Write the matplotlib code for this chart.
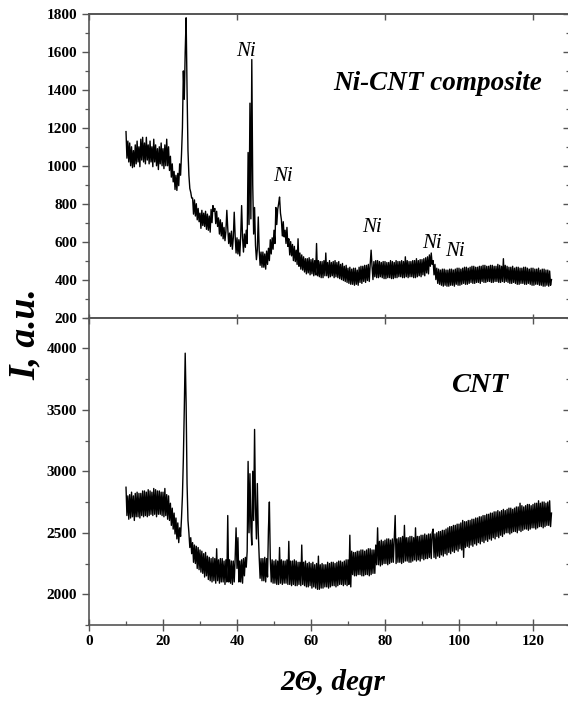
import numpy as np
import matplotlib
matplotlib.use("Agg")
import matplotlib.pyplot as plt
from matplotlib.ticker import MultipleLocator, NullFormatter
from matplotlib.font_manager import FontProperties

plt.rcParams["font.family"] = "Liberation Serif"
plt.rcParams["font.weight"] = "bold"

# 2-theta grid: 10..125 deg, 0.25 deg step (one row below = one degree)
theta_start, theta_stop, theta_step = 10.0, 125.0, 0.25

# Ni-CNT composite pattern
ni_cnt = [
    1180, 1040, 1130, 1020,  1120, 1000, 1100, 990,   1080, 995, 1110, 1010,   # 10-12
    1130, 1020, 1100, 995,   1140, 1030, 1150, 1020,  1120, 1010, 1150, 1030,  # 13-15
    1110, 1010, 1130, 1020,  1100, 995, 1140, 1020,   1110, 1000, 1090, 980,   # 16-18
    1100, 1010, 1120, 1000,  1090, 985, 1110, 1000,   1140, 1000, 1100, 975,   # 19-21
    1050, 940, 1010, 915,    970, 875, 950, 870,      960, 895, 1010, 950,     # 22-24
    1060, 1200, 1500, 1350,  1600, 1780, 1400, 1080,  950, 880, 860, 830,      # 25-27
    830, 745, 820, 735,      800, 715, 775, 705,      750, 670, 765, 685,      # 28-30
    750, 680, 760, 665,      745, 660, 735, 650,      770, 700, 790, 760,      # 31-33
    775, 695, 760, 680,      725, 640, 715, 630,      700, 615, 675, 605,      # 34-36
    655, 765, 670, 590,      645, 575, 655, 560,      620, 755, 630, 540,      # 37-39
    620, 535, 610, 525,      630, 790, 620, 545,      640, 570, 660, 590,      # 40-42
    1070, 690, 1330, 720,    1560, 900, 640, 780,     580, 505, 560, 730,      # 43-45
    555, 475, 545, 465,      545, 465, 535, 455,      550, 480, 565, 500,      # 46-48
    610, 535, 620, 560,      660, 590, 780, 690,      770, 800, 835, 750,      # 49-51
    715, 630, 705, 625,      660, 590, 675, 575,      615, 530, 600, 525,      # 52-54
    585, 500, 575, 495,      555, 480, 615, 470,      540, 455, 530, 450,      # 55-57
    520, 440, 510, 430,      510, 435, 515, 425,      505, 430, 510, 420,      # 58-60
    500, 425, 590, 420,      500, 415, 495, 410,      495, 410, 500, 420,      # 61-63
    540, 420, 490, 410,      500, 415, 490, 420,      495, 410, 500, 415,      # 64-66
    490, 410, 495, 405,      480, 400, 485, 395,      470, 390, 475, 385,      # 67-69
    460, 380, 465, 375,      455, 375, 460, 370,      460, 375, 450, 370,      # 70-72
    465, 385, 470, 380,      470, 390, 475, 385,      475, 395, 480, 390,      # 73-75
    480, 555, 470, 400,      495, 415, 500, 410,      500, 410, 495, 415,      # 76-78
    490, 410, 495, 405,      495, 405, 490, 410,      490, 410, 500, 405,      # 79-81
    495, 405, 490, 410,      500, 410, 495, 415,      495, 415, 500, 410,      # 82-84
    495, 410, 520, 415,      500, 410, 495, 415,      495, 415, 500, 410,      # 85-87
    500, 410, 510, 415,      500, 420, 505, 415,      505, 425, 510, 420,      # 88-90
    515, 435, 520, 430,      530, 470, 540, 480,      500, 425, 480, 400,      # 91-93
    460, 380, 455, 375,      450, 370, 455, 365,      455, 370, 450, 365,      # 94-96
    450, 365, 455, 370,      455, 370, 450, 365,      455, 375, 460, 370,      # 97-99
    460, 370, 455, 375,      460, 380, 465, 375,      465, 375, 460, 380,      # 100-102
    465, 385, 470, 380,      470, 380, 465, 385,      465, 385, 470, 380,      # 103-105
    470, 390, 475, 385,      475, 385, 470, 390,      470, 390, 475, 385,      # 106-108
    475, 385, 470, 390,      470, 390, 480, 385,      475, 385, 470, 390,      # 109-111
    510, 385, 475, 390,      470, 385, 465, 380,      465, 380, 470, 385,      # 112-114
    460, 380, 465, 375,      465, 375, 460, 380,      460, 380, 465, 375,      # 115-117
    465, 375, 460, 380,      455, 375, 460, 370,      460, 370, 455, 375,      # 118-120
    455, 375, 460, 370,      450, 370, 455, 365,      455, 365, 450, 370,      # 121-123
    450, 365, 445, 370,      400,                                              # 124-125
]

# pure CNT pattern
cnt = [
    2870, 2640, 2800, 2610,  2810, 2620, 2830, 2630,  2800, 2600, 2820, 2630,  # 10-12
    2830, 2630, 2820, 2620,  2820, 2640, 2840, 2630,  2840, 2640, 2830, 2630,  # 13-15
    2850, 2640, 2840, 2650,  2830, 2640, 2860, 2650,  2850, 2630, 2840, 2650,  # 16-18
    2840, 2650, 2830, 2640,  2830, 2630, 2860, 2640,  2810, 2610, 2800, 2600,  # 19-21
    2740, 2560, 2700, 2530,  2660, 2490, 2620, 2450,  2580, 2420, 2540, 2470,  # 22-24
    2620, 2800, 3100, 3500,  3960, 3550, 2900, 2600,  2500, 2380, 2460, 2330,  # 25-27
    2420, 2260, 2400, 2250,  2390, 2210, 2380, 2200,  2360, 2180, 2350, 2170,  # 28-30
    2330, 2140, 2340, 2150,  2310, 2120, 2300, 2110,  2290, 2100, 2300, 2110,  # 31-33
    2290, 2090, 2370, 2110,  2280, 2090, 2290, 2100,  2290, 2100, 2270, 2080,  # 34-36
    2280, 2100, 2640, 2100,  2280, 2090, 2270, 2080,  2270, 2100, 2290, 2540,  # 37-39
    2210, 2460, 2100, 2270,  2100, 2280, 2090, 2290,  2150, 2300, 2220, 2350,  # 40-42
    3080, 2500, 2980, 2550,  2400, 3000, 2600, 3340,  2700, 2450, 2900, 2500,  # 43-45
    2300, 2130, 2290, 2110,  2290, 2110, 2300, 2100,  2290, 2140, 2530, 2750,  # 46-48
    2290, 2100, 2280, 2090,  2270, 2090, 2280, 2080,  2270, 2080, 2380, 2090,  # 49-51
    2280, 2080, 2270, 2090,  2270, 2090, 2280, 2080,  2430, 2080, 2270, 2070,  # 52-54
    2270, 2080, 2280, 2070,  2270, 2070, 2260, 2080,  2260, 2070, 2400, 2080,  # 55-57
    2260, 2070, 2270, 2060,  2250, 2060, 2260, 2070,  2250, 2050, 2260, 2060,  # 58-60
    2240, 2050, 2250, 2040,  2310, 2040, 2240, 2050,  2250, 2050, 2240, 2060,  # 61-63
    2240, 2060, 2260, 2050,  2250, 2060, 2260, 2070,  2260, 2070, 2250, 2060,  # 64-66
    2260, 2070, 2270, 2080,  2270, 2080, 2260, 2070,  2270, 2080, 2280, 2070,  # 67-69
    2280, 2080, 2480, 2060,  2350, 2160, 2340, 2150,  2340, 2150, 2350, 2160,  # 70-72
    2350, 2160, 2360, 2150,  2360, 2150, 2350, 2160,  2360, 2160, 2370, 2150,  # 73-75
    2370, 2160, 2360, 2170,  2360, 2170, 2400, 2240,  2540, 2240, 2430, 2230,  # 76-78
    2440, 2240, 2430, 2250,  2440, 2250, 2450, 2240,  2450, 2250, 2440, 2260,  # 79-81
    2450, 2260, 2460, 2640,  2250, 2450, 2260, 2460,  2260, 2460, 2250, 2470,  # 82-84
    2260, 2560, 2270, 2460,  2270, 2460, 2260, 2470,  2260, 2470, 2270, 2460,  # 85-87
    2280, 2540, 2270, 2470,  2280, 2470, 2270, 2480,  2290, 2480, 2280, 2490,  # 88-90
    2290, 2480, 2290, 2490,  2300, 2490, 2290, 2500,  2530, 2300, 2490, 2290,  # 91-93
    2500, 2310, 2510, 2300,  2510, 2320, 2520, 2310,  2520, 2330, 2530, 2320,  # 94-96
    2540, 2340, 2550, 2330,  2550, 2350, 2560, 2340,  2560, 2360, 2570, 2350,  # 97-99
    2570, 2370, 2580, 2360,  2600, 2300, 2590, 2380,  2590, 2390, 2600, 2380,  # 100-102
    2600, 2400, 2610, 2390,  2610, 2410, 2620, 2400,  2620, 2420, 2630, 2410,  # 103-105
    2630, 2430, 2640, 2420,  2640, 2440, 2650, 2430,  2650, 2450, 2660, 2440,  # 106-108
    2660, 2460, 2670, 2450,  2670, 2470, 2680, 2460,  2670, 2480, 2680, 2470,  # 109-111
    2690, 2490, 2680, 2500,  2690, 2500, 2700, 2490,  2700, 2500, 2690, 2510,  # 112-114
    2700, 2510, 2710, 2500,  2710, 2520, 2740, 2510,  2720, 2520, 2710, 2530,  # 115-117
    2720, 2530, 2730, 2520,  2730, 2530, 2720, 2540,  2730, 2540, 2740, 2530,  # 118-120
    2740, 2540, 2760, 2550,  2740, 2550, 2750, 2540,  2750, 2550, 2740, 2560,  # 121-123
    2750, 2560, 2760, 2550,  2660,                                             # 124-125
]

# Ni reflection labels (2theta, intensity) in the upper panel
ni_label_x = [42.4, 52.4, 76.5, 92.7, 98.9]
ni_label_y = [1600, 945, 675, 591, 549]

two_theta = np.arange(theta_start, theta_stop + theta_step / 2, theta_step)

fig = plt.figure(figsize=(5.68, 7.04), dpi=100)
ax_top = fig.add_axes([0.1567, 0.549, 0.8468, 0.4311])
ax_bot = fig.add_axes([0.1567, 0.1122, 0.8468, 0.4368])

spine_col = "#555555"
tick_font = FontProperties(family="Liberation Serif", weight="bold", size=11)

for ax in (ax_top, ax_bot):
    ax.set_xlim(0, 130)
    for sp in ax.spines.values():
        sp.set_color(spine_col)
        sp.set_linewidth(1.2)
    ax.tick_params(axis="y", which="major", direction="out", length=5, width=1.0,
                   color=spine_col)
    ax.tick_params(axis="y", which="minor", direction="out", length=3, width=0.9,
                   color=spine_col)
    # right side ticks point inward
    sec = ax.secondary_yaxis("right")
    sec.tick_params(which="major", direction="in", length=5, width=1.0, color=spine_col)
    sec.tick_params(which="minor", direction="in", length=3, width=0.9, color=spine_col)
    sec.yaxis.set_major_formatter(NullFormatter())
    # top side ticks every 40
    sec_x = ax.secondary_xaxis("top")
    sec_x.set_xticks([0, 40, 80, 120])
    sec_x.tick_params(direction="in", length=4, width=1.0, color=spine_col)
    sec_x.xaxis.set_major_formatter(NullFormatter())
    sec_x.spines["top"].set_color(spine_col)
    sec_x.spines["top"].set_linewidth(1.2)
    ax._sec = sec

# upper panel
ax_top.plot(two_theta, ni_cnt, color="black", lw=1.0)
ax_top.set_ylim(200, 1800)
ax_top.yaxis.set_major_locator(MultipleLocator(200))
ax_top.yaxis.set_minor_locator(MultipleLocator(100))
ax_top._sec.yaxis.set_major_locator(MultipleLocator(200))
ax_top._sec.yaxis.set_minor_locator(MultipleLocator(100))
ax_top.set_xticks([0, 40, 80, 120])
ax_top.tick_params(axis="x", direction="inout", length=6, width=1.0, color=spine_col,
                   labelbottom=False)

for xx, yy in zip(ni_label_x, ni_label_y):
    ax_top.text(xx, yy, "Ni", ha="center", va="center", fontsize=15,
                style="italic", weight="normal")
ax_top.text(94.3, 1435, "Ni-CNT composite", ha="center", va="center", fontsize=19.5,
            style="italic", weight="bold")

# lower panel
ax_bot.plot(two_theta, cnt, color="black", lw=1.0)
ax_bot.set_ylim(1750, 4250)
ax_bot.yaxis.set_major_locator(MultipleLocator(500))
ax_bot.yaxis.set_minor_locator(MultipleLocator(250))
ax_bot._sec.yaxis.set_major_locator(MultipleLocator(500))
ax_bot._sec.yaxis.set_minor_locator(MultipleLocator(250))
ax_bot.xaxis.set_major_locator(MultipleLocator(20))
ax_bot.xaxis.set_minor_locator(MultipleLocator(10))
ax_bot.tick_params(axis="x", which="major", direction="inout", length=8, width=1.0,
                   color=spine_col, pad=3)
ax_bot.tick_params(axis="x", which="minor", direction="in", length=3, width=0.9,
                   color=spine_col)
ax_bot.text(105.5, 3700, "CNT", ha="center", va="center", fontsize=20.5,
            style="italic", weight="bold")

for ax in (ax_top, ax_bot):
    for lab in ax.get_xticklabels() + ax.get_yticklabels():
        lab.set_fontproperties(tick_font)

fig.text(25 / 568, 1 - 334 / 704, "I, a.u.", rotation=90, ha="center", va="center",
         fontsize=27, style="italic", weight="bold")
fig.text(333 / 568, 1 - 683 / 704, "2\u0398, degr", ha="center", va="center",
         fontsize=21, style="italic", weight="bold")

fig.savefig("out.png", dpi=100)
